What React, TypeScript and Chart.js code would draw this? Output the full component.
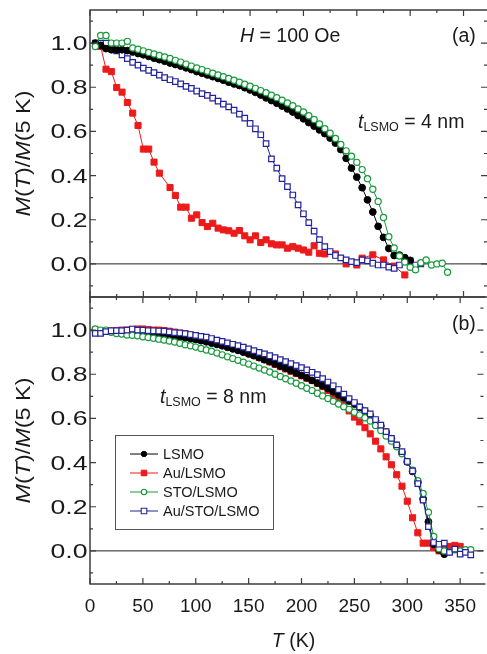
import React, { useEffect, useRef } from 'react';
import { Chart, registerables } from 'chart.js';

Chart.register(...registerables);

const FONT = '"Liberation Sans", Arial, Helvetica, sans-serif';

// ---------- data ----------
const seriesNames = ['LSMO', 'Au/LSMO', 'STO/LSMO', 'Au/STO/LSMO'];

const temps = [
  5, 10, 15, 20, 25, 30, 35, 40, 45, 50, 55, 60, 65, 70, 75, 80, 85, 90, 95, 100,
  105, 110, 115, 120, 125, 130, 135, 140, 145, 150, 155, 160, 165, 170, 175, 180, 185, 190, 195, 200,
  205, 210, 215, 220, 225, 230, 235, 240, 245, 250, 255, 260, 265, 270, 275, 280, 285, 290, 295, 300,
  305, 310, 315, 320, 325, 330, 335, 340, 345, 350, 355, 360,
];

// panel (a): t_LSMO = 4 nm
const lsmoA = [
  1.0, 0.99, 0.975, 0.97, 0.97, 0.97, 0.966, 0.96, 0.953, 0.947,
  0.94, 0.932, 0.925, 0.918, 0.91, 0.903, 0.896, 0.888, 0.88, 0.871,
  0.864, 0.856, 0.848, 0.84, 0.832, 0.823, 0.815, 0.808, 0.798, 0.788,
  0.777, 0.765, 0.752, 0.74, 0.728, 0.715, 0.702, 0.688, 0.672, 0.657,
  0.64, 0.624, 0.607, 0.59, 0.57, 0.547, 0.518, 0.478, 0.434, 0.393,
  0.345, 0.29, 0.235, 0.17, 0.12, 0.07, 0.038, 0.04, 0.028, 0.016,
];
const auATemps = [
  10, 15, 20, 25, 30, 35, 40, 45, 50, 55, 60, 65, 75, 80, 85, 90, 95, 100, 105, 110,
  115, 120, 125, 130, 135, 140, 145, 150, 155, 160, 165, 170, 175, 180, 185, 190, 195, 200, 205, 210,
  215, 220, 230, 240, 250, 255, 265, 275, 285, 295,
];
const auA = [
  0.985, 0.882, 0.871, 0.799, 0.778, 0.731, 0.683, 0.627, 0.52, 0.52,
  0.461, 0.411, 0.346, 0.31, 0.257, 0.257, 0.207, 0.222, 0.187, 0.169,
  0.184, 0.162, 0.154, 0.15, 0.139, 0.151, 0.127, 0.109, 0.127, 0.097,
  0.109, 0.091, 0.086, 0.086, 0.071, 0.078, 0.071, 0.063, 0.053, 0.082,
  0.048, 0.045, 0.045, 0.0, -0.005, 0.026, 0.041, 0.018, -0.01, -0.05,
];
const stoA = [
  0.985, 1.035, 1.035, 1.0, 1.0, 1.0, 1.008, 0.978, 0.972, 0.965,
  0.958, 0.951, 0.944, 0.937, 0.93, 0.922, 0.914, 0.905, 0.896, 0.887,
  0.88, 0.872, 0.864, 0.856, 0.848, 0.84, 0.832, 0.823, 0.814, 0.805,
  0.795, 0.785, 0.775, 0.764, 0.753, 0.741, 0.729, 0.716, 0.702, 0.688,
  0.671, 0.654, 0.634, 0.612, 0.592, 0.568, 0.541, 0.512, 0.488, 0.46,
  0.427, 0.386, 0.338, 0.283, 0.21, 0.123, 0.072, 0.036, 0.008, -0.015,
  -0.027, 0.005, 0.018, -0.005, 0.0, 0.003, -0.038,
];
const austoA = [
  1.0, 1.0, 1.0, 0.989, 0.965, 0.947, 0.93, 0.913, 0.9, 0.887,
  0.877, 0.866, 0.855, 0.844, 0.834, 0.826, 0.815, 0.804, 0.795, 0.783,
  0.771, 0.763, 0.751, 0.737, 0.724, 0.711, 0.696, 0.678, 0.66, 0.636,
  0.612, 0.585, 0.545, 0.476, 0.434, 0.386, 0.35, 0.312, 0.267, 0.227,
  0.187, 0.148, 0.11, 0.078, 0.056, 0.038, 0.027, 0.018, 0.01, 0.006,
  0.018, 0.014, 0.003, -0.005, -0.005, -0.015, -0.02, -0.005, 0.018, 0.014,
  -0.005, 0.0,
];

// panel (b): t_LSMO = 8 nm
const lsmoB = [
  1.0, 0.995, 0.995, 0.993, 0.992, 0.99, 0.99, 0.99, 0.988, 0.987,
  0.985, 0.984, 0.982, 0.98, 0.977, 0.974, 0.97, 0.966, 0.962, 0.957,
  0.952, 0.947, 0.941, 0.935, 0.929, 0.922, 0.915, 0.908, 0.9, 0.892,
  0.884, 0.875, 0.866, 0.857, 0.847, 0.837, 0.827, 0.817, 0.806, 0.795,
  0.784, 0.772, 0.76, 0.748, 0.735, 0.721, 0.707, 0.693, 0.679, 0.665,
  0.65, 0.632, 0.612, 0.59, 0.566, 0.538, 0.508, 0.478, 0.445, 0.403,
  0.36, 0.31, 0.235, 0.132, 0.03, 0.005, -0.015,
];
const auB = [
  1.0, 0.995, 0.995, 0.997, 0.998, 1.0, 1.0, 1.003, 1.005, 1.005,
  1.003, 1.0, 1.0, 0.998, 0.995, 0.991, 0.987, 0.983, 0.978, 0.973,
  0.967, 0.961, 0.955, 0.948, 0.941, 0.933, 0.925, 0.917, 0.907, 0.897,
  0.887, 0.876, 0.866, 0.856, 0.845, 0.834, 0.824, 0.813, 0.803, 0.793,
  0.782, 0.772, 0.759, 0.744, 0.727, 0.708, 0.686, 0.661, 0.634, 0.606,
  0.584, 0.558, 0.53, 0.497, 0.462, 0.426, 0.39, 0.345, 0.293, 0.225,
  0.15, 0.082, 0.035, 0.035, 0.015, 0.0, 0.005, 0.02, 0.025, 0.02,
];
const stoB = [
  1.005, 1.0, 1.0, 0.99, 0.985, 0.982, 0.978, 0.977, 0.974, 0.97,
  0.966, 0.963, 0.959, 0.955, 0.951, 0.946, 0.94, 0.934, 0.929, 0.923,
  0.917, 0.91, 0.904, 0.896, 0.888, 0.879, 0.871, 0.863, 0.855, 0.846,
  0.837, 0.828, 0.819, 0.81, 0.8, 0.79, 0.78, 0.77, 0.759, 0.748,
  0.737, 0.726, 0.714, 0.702, 0.69, 0.678, 0.665, 0.653, 0.641, 0.628,
  0.616, 0.603, 0.588, 0.568, 0.545, 0.52, 0.497, 0.472, 0.44, 0.405,
  0.365, 0.318, 0.26, 0.175, 0.065, 0.01, 0.0, -0.005, 0.005, 0.0,
  0.005, 0.005,
];
const austoB = [
  0.985, 0.985, 0.993, 0.997, 0.998, 0.998, 1.0, 1.005, 1.0, 1.0,
  0.998, 0.997, 0.996, 0.995, 0.992, 0.989, 0.987, 0.984, 0.98, 0.976,
  0.972, 0.968, 0.962, 0.955, 0.949, 0.942, 0.936, 0.93, 0.923, 0.915,
  0.907, 0.899, 0.892, 0.884, 0.875, 0.866, 0.857, 0.848, 0.839, 0.83,
  0.82, 0.809, 0.798, 0.78, 0.765, 0.748, 0.731, 0.71, 0.69, 0.672,
  0.652, 0.635, 0.621, 0.595, 0.57, 0.54, 0.51, 0.48, 0.45, 0.405,
  0.362, 0.305, 0.23, 0.11, 0.038, 0.03, 0.035, -0.007, 0.008, -0.015,
  -0.007, -0.018,
];

const xMajorTicks = [0, 50, 100, 150, 200, 250, 300, 350];
const xMinorTicks = [25, 75, 125, 175, 225, 275, 325];
const yMajorTicks = [0, 0.2, 0.4, 0.6, 0.8, 1.0];
const yMinorTicks = [-0.1, 0.1, 0.3, 0.5, 0.7, 0.9, 1.1];

// ---------- styles ----------
const BLACK = '#000000';
const RED = '#ec1b1b';
const GREEN = '#179a3c';
const NAVY = '#23239c';

type Style = { color: string; shape: 'circle' | 'rect'; filled: boolean; r: number; order: number };
const styleA: Style[] = [
  { color: BLACK, shape: 'circle', filled: true, r: 3.4, order: 1 },
  { color: RED, shape: 'rect', filled: true, r: 4.3, order: 3 },
  { color: GREEN, shape: 'circle', filled: false, r: 3.1, order: 0 },
  { color: NAVY, shape: 'rect', filled: false, r: 3.9, order: 2 },
];
const styleB: Style[] = [
  { color: BLACK, shape: 'circle', filled: true, r: 3.4, order: 2 },
  { color: RED, shape: 'rect', filled: true, r: 4.3, order: 3 },
  { color: GREEN, shape: 'circle', filled: false, r: 3.1, order: 1 },
  { color: NAVY, shape: 'rect', filled: false, r: 3.9, order: 0 },
];

const toPts = (ts: number[], vs: number[]) => vs.map((v, i) => ({ x: ts[i], y: v }));

function makeDataset(i: number, ts: number[], vs: number[], st: Style) {
  return {
    label: seriesNames[i],
    data: toPts(ts, vs),
    borderColor: st.color,
    backgroundColor: st.filled ? st.color : '#ffffff',
    borderWidth: 1,
    pointBorderWidth: st.filled ? 1 : 1.2,
    pointStyle: st.shape,
    pointRadius: st.r,
    pointBorderColor: st.color,
    pointBackgroundColor: st.filled ? st.color : '#ffffff',
    fill: false,
    tension: 0,
    order: st.order,
  };
}

// ---------- text helpers ----------
type Seg = { t: string; it?: boolean; sz?: number; dy?: number };
const segFont = (s: Seg, base: number) => `${s.it ? 'italic ' : ''}${s.sz ?? base}px ${FONT}`;
function measureSegs(ctx: CanvasRenderingContext2D, segs: Seg[], base: number) {
  let w = 0;
  for (const s of segs) {
    ctx.font = segFont(s, base);
    w += ctx.measureText(s.t).width;
  }
  return w;
}
function drawSegs(ctx: CanvasRenderingContext2D, segs: Seg[], base: number, x: number, y: number) {
  let cx = x;
  for (const s of segs) {
    ctx.font = segFont(s, base);
    ctx.fillText(s.t, cx, y + (s.dy ?? 0));
    cx += ctx.measureText(s.t).width;
  }
}

const yTitle: Seg[] = [
  { t: 'M', it: true }, { t: '(' }, { t: 'T', it: true }, { t: ')/' }, { t: 'M', it: true }, { t: '(5 K)' },
];

type PanelText = { segs: Seg[]; x: number; y: number };
type PanelOpts = { name: string; top: number; texts: PanelText[]; legend: Style[] | null; xTitle: boolean };

function panelPlugin(p: PanelOpts) {
  return {
    id: 'panel_' + p.name,
    beforeDatasetsDraw(chart: any) {
      const { ctx, chartArea: ca, scales } = chart;
      const y0 = scales.y.getPixelForValue(0);
      ctx.save();
      ctx.strokeStyle = '#222';
      ctx.lineWidth = 1;
      ctx.beginPath();
      ctx.moveTo(ca.left, y0);
      ctx.lineTo(ca.right, y0);
      ctx.stroke();
      ctx.restore();
    },
    afterDraw(chart: any) {
      const { ctx, chartArea: ca, scales } = chart;
      const xs = scales.x;
      const ys = scales.y;
      ctx.save();
      // frame
      ctx.strokeStyle = '#3c3c3c';
      ctx.lineWidth = 1.5;
      ctx.beginPath();
      ctx.moveTo(ca.right + 2, ca.top);
      ctx.lineTo(ca.left, ca.top);
      ctx.lineTo(ca.left, ca.bottom);
      ctx.lineTo(ca.right + 2, ca.bottom);
      ctx.stroke();
      // inward ticks
      ctx.lineWidth = 1.2;
      ctx.beginPath();
      const xt = (v: number, len: number) => {
        const px = xs.getPixelForValue(v);
        ctx.moveTo(px, ca.top);
        ctx.lineTo(px, ca.top + len);
        ctx.moveTo(px, ca.bottom);
        ctx.lineTo(px, ca.bottom - len);
      };
      const yt = (v: number, len: number) => {
        const py = ys.getPixelForValue(v);
        ctx.moveTo(ca.left, py);
        ctx.lineTo(ca.left + len, py);
        ctx.moveTo(ca.right, py);
        ctx.lineTo(ca.right - len, py);
      };
      xMajorTicks.forEach((v) => xt(v, 6));
      xMinorTicks.forEach((v) => xt(v, 3));
      yMajorTicks.forEach((v) => yt(v, 6));
      yMinorTicks.forEach((v) => yt(v, 3));
      ctx.stroke();

      ctx.fillStyle = '#1a1a1a';
      // y tick labels (wide face as in the original)
      const tickSize = 19.5;
      ctx.font = `${tickSize}px ${FONT}`;
      const kx = 37 / ctx.measureText('1.0').width;
      ctx.textAlign = 'right';
      ctx.textBaseline = 'alphabetic';
      for (const v of yMajorTicks) {
        const py = ys.getPixelForValue(v);
        ctx.save();
        ctx.translate(ca.left - 2.5, py + tickSize * 0.36);
        ctx.scale(kx, 1);
        ctx.fillText(v.toFixed(1), 0, 0);
        ctx.restore();
      }
      ctx.textAlign = 'left';

      // y title
      const tw = measureSegs(ctx, yTitle, 20);
      const ky = 126 / tw;
      ctx.save();
      ctx.translate(29.5, (ca.top + ca.bottom) / 2);
      ctx.rotate(-Math.PI / 2);
      ctx.scale(ky, 1);
      drawSegs(ctx, yTitle, 20, -tw / 2, 0);
      ctx.restore();

      // annotations
      for (const t of p.texts) drawSegs(ctx, t.segs, 19.5, t.x, t.y - p.top);

      // x title
      if (p.xTitle) {
        const segs: Seg[] = [{ t: 'T', it: true }, { t: ' (K)' }];
        const w = measureSegs(ctx, segs, 19.5);
        drawSegs(ctx, segs, 19.5, 293.5 - w / 2, 646.5 - p.top);
      }

      // legend
      if (p.legend) {
        const bx = 115, by = 435 - p.top, bw = 158, bh = 94;
        ctx.strokeStyle = '#555';
        ctx.lineWidth = 1;
        ctx.strokeRect(bx + 0.5, by + 0.5, bw, bh);
        ctx.font = `14.5px ${FONT}`;
        ctx.textBaseline = 'middle';
        chart.data.datasets.forEach((ds: any, i: number) => {
          const st = p.legend![i];
          const ly = by + 19 + i * 19;
          ctx.strokeStyle = st.color;
          ctx.lineWidth = 1;
          ctx.beginPath();
          ctx.moveTo(130, ly);
          ctx.lineTo(158, ly);
          ctx.stroke();
          ctx.fillStyle = st.filled ? st.color : '#fff';
          ctx.lineWidth = st.filled ? 1 : 1.1;
          ctx.beginPath();
          if (st.shape === 'circle') ctx.arc(144, ly, 2.7, 0, Math.PI * 2);
          else ctx.rect(144 - 2.8, ly - 2.8, 5.6, 5.6);
          ctx.fill();
          ctx.stroke();
          ctx.fillStyle = '#1a1a1a';
          ctx.fillText(ds.label, 163, ly + 0.5);
        });
      }
      ctx.restore();
    },
  };
}

const tSub = (rest: string): Seg[] => [
  { t: 't', it: true },
  { t: 'LSMO', sz: 12.5, dy: 3 },
  { t: rest },
];

function baseOptions(padTop: number, padBottom: number, xLabels: boolean) {
  return {
    responsive: false,
    animation: false as const,
    events: [] as any[],
    layout: { autoPadding: false, padding: { top: padTop, bottom: padBottom, left: 0, right: 0 } },
    plugins: { legend: { display: false }, tooltip: { enabled: false } },
    scales: {
      x: {
        type: 'linear' as const,
        min: 0,
        max: 372,
        grid: { display: false, drawTicks: false },
        border: { display: false },
        ticks: {
          display: xLabels,
          stepSize: 50,
          autoSkip: false,
          maxRotation: 0,
          minRotation: 0,
          includeBounds: false,
          padding: 11,
          color: '#1a1a1a',
          font: { family: FONT, size: 19 },
          callback: (v: any) => String(v),
        },
        afterFit: (s: any) => {
          s.height = xLabels ? 70 : 0;
        },
      },
      y: {
        type: 'linear' as const,
        min: -0.15,
        max: 1.15,
        grid: { display: false, drawTicks: false },
        border: { display: false },
        ticks: { display: false, stepSize: 0.2, includeBounds: false },
        afterFit: (s: any) => {
          s.width = 90;
        },
      },
    },
  };
}

export default function App() {
  const refA = useRef<HTMLCanvasElement>(null);
  const refB = useRef<HTMLCanvasElement>(null);

  useEffect(() => {
    const dsA = [
      makeDataset(0, temps, lsmoA, styleA[0]),
      makeDataset(1, auATemps, auA, styleA[1]),
      makeDataset(2, temps, stoA, styleA[2]),
      makeDataset(3, temps, austoA, styleA[3]),
    ];
    const dsB = [
      makeDataset(0, temps, lsmoB, styleB[0]),
      makeDataset(1, temps, auB, styleB[1]),
      makeDataset(2, temps, stoB, styleB[2]),
      makeDataset(3, temps, austoB, styleB[3]),
    ];
    const chartA = new Chart(refA.current as HTMLCanvasElement, {
      type: 'line',
      data: { datasets: dsA as any },
      options: baseOptions(10, 3, false) as any,
      plugins: [
        panelPlugin({
          name: 'a',
          top: 0,
          texts: [
            { segs: [{ t: 'H', it: true }, { t: ' = 100 Oe' }], x: 240, y: 41.5 },
            { segs: [{ t: '(a)' }], x: 452, y: 41.5 },
            { segs: tSub(' = 4 nm'), x: 358, y: 128 },
          ],
          legend: null,
          xTitle: false,
        }),
      ],
    });
    const chartB = new Chart(refB.current as HTMLCanvasElement, {
      type: 'line',
      data: { datasets: dsB as any },
      options: baseOptions(10, 0, true) as any,
      plugins: [
        panelPlugin({
          name: 'b',
          top: 287,
          texts: [
            { segs: [{ t: '(b)' }], x: 452, y: 329.5 },
            { segs: tSub(' = 8 nm'), x: 160, y: 402.5 },
          ],
          legend: styleB,
          xTitle: true,
        }),
      ],
    });
    return () => {
      chartA.destroy();
      chartB.destroy();
    };
  }, []);

  return (
    <div
      style={{
        position: 'fixed',
        left: 0,
        top: 0,
        width: 487,
        height: 654,
        background: '#ffffff',
        overflow: 'hidden',
      }}
    >
      <canvas ref={refA} width={487} height={300} style={{ position: 'absolute', left: 0, top: 0 }} />
      <canvas ref={refB} width={487} height={367} style={{ position: 'absolute', left: 0, top: 287 }} />
    </div>
  );
}
